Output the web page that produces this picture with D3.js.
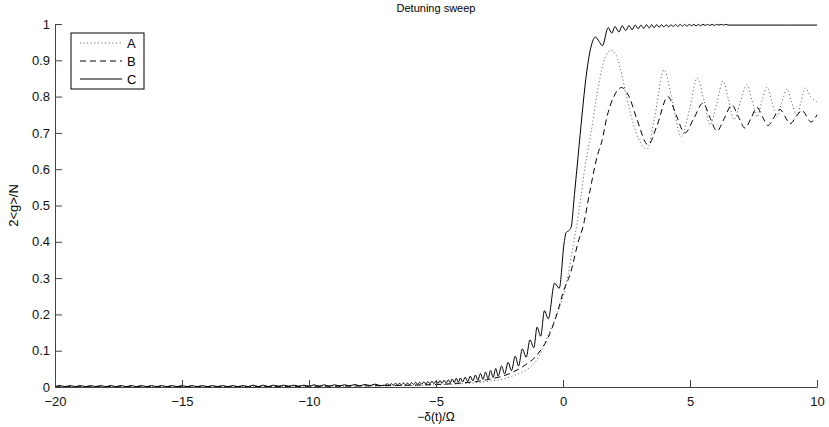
<!DOCTYPE html>
<html>
<head>
<meta charset="utf-8">
<script src="https://cdn.jsdelivr.net/npm/d3@7"></script>
<style>
  body { margin: 0; background: #fff; }
  text { font-family: "Liberation Sans", Arial, sans-serif; }
</style>
</head>
<body>
<script>
// series: [x, y]
var seriesA = [
  [-20, 0.0005], [-10, 0.002], [-6, 0.004], [-5, 0.006], [-4, 0.009], [-3, 0.015],
  [-2.5, 0.02], [-2, 0.03], [-1.5, 0.045], [-1.2, 0.06], [-0.9, 0.09], [-0.6, 0.14],
  [-0.3, 0.19], [0, 0.25], [0.2, 0.31], [0.4, 0.39], [0.55, 0.45], [0.7, 0.52],
  [0.85, 0.6], [1.0, 0.66], [1.15, 0.72], [1.3, 0.79], [1.45, 0.85], [1.6, 0.895],
  [1.75, 0.92], [1.89, 0.928], [2.05, 0.92], [2.25, 0.88], [2.5, 0.8], [2.75, 0.73],
  [3.0, 0.68], [3.31, 0.655], [3.6, 0.74], [3.98, 0.874], [4.3, 0.79], [4.65, 0.69],
  [5.0, 0.77], [5.28, 0.851], [5.55, 0.79], [5.79, 0.722], [6.05, 0.78], [6.3, 0.843],
  [6.52, 0.79], [6.73, 0.736], [7.0, 0.79], [7.24, 0.832], [7.44, 0.79], [7.64, 0.744],
  [7.84, 0.79], [8.03, 0.826], [8.23, 0.785], [8.43, 0.745], [8.62, 0.785], [8.82, 0.821],
  [9.0, 0.785], [9.21, 0.749], [9.37, 0.785], [9.53, 0.824], [9.75, 0.8], [10, 0.785]
];

var seriesB = [
  [-20, 0.0005], [-10, 0.002], [-6, 0.005], [-4, 0.011], [-3, 0.02], [-2, 0.04],
  [-1.5, 0.06], [-1, 0.09], [-0.5, 0.15], [-0.2, 0.21], [0, 0.26], [0.3, 0.315],
  [0.6, 0.4], [0.8, 0.445], [1.06, 0.54], [1.34, 0.634], [1.54, 0.68], [1.73, 0.744],
  [2.0, 0.8], [2.3, 0.825], [2.6, 0.8], [2.9, 0.74], [3.35, 0.667], [3.7, 0.72],
  [4.13, 0.8], [4.45, 0.75], [4.8, 0.7], [5.15, 0.74], [5.51, 0.782], [5.8, 0.74],
  [6.06, 0.705], [6.35, 0.74], [6.65, 0.777], [6.9, 0.745], [7.17, 0.713], [7.4, 0.74],
  [7.64, 0.77], [7.85, 0.745], [8.07, 0.72], [8.3, 0.742], [8.54, 0.765], [8.74, 0.745],
  [8.94, 0.725], [9.18, 0.745], [9.41, 0.762], [9.6, 0.745], [9.76, 0.73], [10, 0.75]
];

var seriesC = [
  [-20.0, 0.001], [-19.8, 0.004], [-19.6, 0.001], [-19.4, 0.004], [-19.2, 0.001],
  [-19.0, 0.004], [-18.8, 0.001], [-18.6, 0.004], [-18.4, 0.001], [-18.2, 0.004],
  [-18.0, 0.001], [-17.8, 0.004], [-17.6, 0.001], [-17.4, 0.004], [-17.2, 0.001],
  [-17.0, 0.004], [-16.8, 0.001], [-16.6, 0.004], [-16.4, 0.001], [-16.2, 0.004],
  [-16.0, 0.001], [-15.8, 0.004], [-15.6, 0.001], [-15.4, 0.004], [-15.2, 0.001],
  [-15.0, 0.004], [-14.8, 0.001], [-14.6, 0.004], [-14.4, 0.001], [-14.2, 0.004],
  [-14.0, 0.001], [-13.8, 0.004], [-13.6, 0.001], [-13.4, 0.004], [-13.2, 0.001],
  [-13.0, 0.004], [-12.8, 0.001], [-12.6, 0.004], [-12.4, 0.001], [-12.2, 0.005],
  [-12.0, 0.001], [-11.8, 0.005], [-11.6, 0.001], [-11.4, 0.005], [-11.2, 0.002],
  [-11.0, 0.005], [-10.8, 0.002], [-10.6, 0.005], [-10.4, 0.002], [-10.2, 0.005],
  [-10.0, 0.002], [-9.8, 0.006], [-9.6, 0.002], [-9.4, 0.006], [-9.2, 0.002],
  [-9.0, 0.006], [-8.8, 0.003], [-8.6, 0.006], [-8.4, 0.003], [-8.2, 0.007],
  [-8.0, 0.003], [-7.8, 0.007], [-7.6, 0.004], [-7.4, 0.008], [-7.2, 0.004],
  [-7.00, 0.005], [-6.92, 0.009], [-6.84, 0.005], [-6.76, 0.009], [-6.68, 0.005],
  [-6.60, 0.010], [-6.52, 0.006], [-6.44, 0.010], [-6.36, 0.006], [-6.28, 0.011],
  [-6.20, 0.006], [-6.12, 0.011], [-6.04, 0.006], [-5.96, 0.012], [-5.88, 0.007],
  [-5.80, 0.013], [-5.72, 0.007], [-5.64, 0.013], [-5.56, 0.008], [-5.48, 0.014],
  [-5.40, 0.008], [-5.32, 0.015], [-5.24, 0.009], [-5.16, 0.016], [-5.08, 0.009],
  [-5.00, 0.017], [-4.92, 0.010], [-4.84, 0.018], [-4.76, 0.010], [-4.68, 0.019],
  [-4.60, 0.011], [-4.52, 0.020], [-4.44, 0.012], [-4.36, 0.022], [-4.28, 0.012],
  [-4.20, 0.024], [-4.12, 0.013], [-4.04, 0.025], [-3.95, 0.014], [-3.85, 0.027],
  [-3.75, 0.015], [-3.65, 0.030], [-3.55, 0.017], [-3.45, 0.033], [-3.35, 0.019],
  [-3.25, 0.037], [-3.15, 0.021], [-3.05, 0.041], [-2.95, 0.023], [-2.85, 0.046],
  [-2.75, 0.026], [-2.65, 0.051], [-2.55, 0.030], [-2.42, 0.058], [-2.30, 0.036],
  [-2.16, 0.068], [-2.03, 0.045], [-1.88, 0.085], [-1.75, 0.058], [-1.60, 0.105],
  [-1.45, 0.082], [-1.30, 0.130], [-1.15, 0.108], [-1.02, 0.165], [-0.88, 0.140],
  [-0.73, 0.210], [-0.58, 0.188], [-0.33, 0.286], [-0.15, 0.272], [0.05, 0.40],
  [0.12, 0.425], [0.25, 0.432], [0.32, 0.44], [0.45, 0.53], [0.6, 0.64], [0.75, 0.75],
  [0.9, 0.85], [1.05, 0.92], [1.28, 0.964], [1.42, 0.952], [1.55, 0.94], [1.78, 0.99],
  [1.92, 0.975], [2.05, 0.993], [2.2, 0.978], [2.33, 0.995], [2.47, 0.982], [2.6, 0.996],
  [2.72, 0.984], [2.84, 0.997], [2.96, 0.987], [3.07, 0.997], [3.18, 0.988], [3.29, 0.998],
  [3.39, 0.989], [3.49, 0.998], [3.59, 0.990], [3.69, 0.998], [3.79, 0.991], [3.88, 0.998],
  [3.97, 0.992], [4.07, 0.998], [4.16, 0.992], [4.25, 0.998], [4.34, 0.993], [4.43, 0.999],
  [4.52, 0.993], [4.61, 0.999], [4.70, 0.994], [4.79, 0.999], [4.88, 0.994], [4.97, 0.999],
  [5.06, 0.995], [5.15, 0.999], [5.24, 0.995], [5.33, 0.999], [5.42, 0.995], [5.51, 0.999],
  [5.60, 0.996], [5.69, 0.999], [5.78, 0.996], [5.87, 0.999], [5.96, 0.996], [6.05, 0.999],
  [6.14, 0.997], [6.23, 0.999], [6.32, 0.997], [6.41, 0.999], [6.50, 0.997], [7, 0.997],
  [8, 0.997], [9, 0.997], [10, 0.997]
];

var seriesNames = ["A", "B", "C"];
var xTicks = [-20, -15, -10, -5, 0, 5, 10];
var yTicks = [0, 0.1, 0.2, 0.3, 0.4, 0.5, 0.6, 0.7, 0.8, 0.9, 1];

function draw() {
  var W = 829, H = 427;
  var mLeft = 55, mRight = 817, mTop = 24, mBottom = 387;

  var svg = d3.select("body").append("svg")
      .attr("width", W)
      .attr("height", H);

  var x = d3.scaleLinear().domain([-20, 10]).range([mLeft, mRight]);
  var y = d3.scaleLinear().domain([0, 1]).range([mBottom, mTop]);

  var styles = [
    { stroke: "#555", dash: "1,2.6", width: 1 },
    { stroke: "#000", dash: "6,4", width: 1 },
    { stroke: "#000", dash: null, width: 1 }
  ];

  var line = d3.line()
      .x(function(d) { return x(d[0]); })
      .y(function(d) { return y(d[1]); })
      .curve(d3.curveMonotoneX);

  [seriesA, seriesB, seriesC].forEach(function(s, i) {
    svg.append("path")
        .datum(s)
        .attr("d", line)
        .attr("fill", "none")
        .attr("stroke", styles[i].stroke)
        .attr("stroke-width", styles[i].width)
        .attr("stroke-dasharray", styles[i].dash);
  });

  // axes, ticks pointing inward
  var xAxis = svg.append("g")
      .attr("transform", "translate(0," + mBottom + ")")
      .call(d3.axisBottom(x).tickValues(xTicks).tickSizeInner(-7).tickSizeOuter(0).tickPadding(10));
  var yAxis = svg.append("g")
      .attr("transform", "translate(" + mLeft + ",0)")
      .call(d3.axisLeft(y).tickValues(yTicks).tickSizeInner(-7).tickSizeOuter(0).tickPadding(5)
        .tickFormat(d3.format("~g")));

  [xAxis, yAxis].forEach(function(g) {
    g.select(".domain").attr("stroke", "#444");
    g.selectAll(".tick line").attr("stroke", "#444");
    g.selectAll(".tick text")
        .attr("fill", "#111")
        .style("font-size", "13px")
        .style("font-family", "'Liberation Sans', Arial, sans-serif");
  });

  svg.append("text")
      .attr("x", (mLeft + mRight) / 2)
      .attr("y", 12)
      .attr("text-anchor", "middle")
      .style("font-size", "11px")
      .text("Detuning sweep");

  svg.append("text")
      .attr("x", (mLeft + mRight) / 2)
      .attr("y", 421)
      .attr("text-anchor", "middle")
      .style("font-size", "12px")
      .text("\u2212\u03b4(t)/\u03a9");

  svg.append("text")
      .attr("transform", "translate(18," + ((mTop + mBottom) / 2) + ") rotate(-90)")
      .attr("text-anchor", "middle")
      .style("font-size", "13px")
      .text("2<g>/N");

  // legend
  var legend = svg.append("g");
  legend.append("rect")
      .attr("x", 71).attr("y", 33)
      .attr("width", 73).attr("height", 56)
      .attr("fill", "#fff")
      .attr("stroke", "#000");

  seriesNames.forEach(function(name, i) {
    var ly = 43 + i * 18;
    legend.append("line")
        .attr("x1", 80).attr("x2", 122)
        .attr("y1", ly).attr("y2", ly)
        .attr("stroke", styles[i].stroke)
        .attr("stroke-width", styles[i].width)
        .attr("stroke-dasharray", styles[i].dash);
    legend.append("text")
        .attr("x", 127)
        .attr("y", ly + 5)
        .style("font-size", "13px")
        .text(name);
  });
}

draw();
</script>
</body>
</html>
